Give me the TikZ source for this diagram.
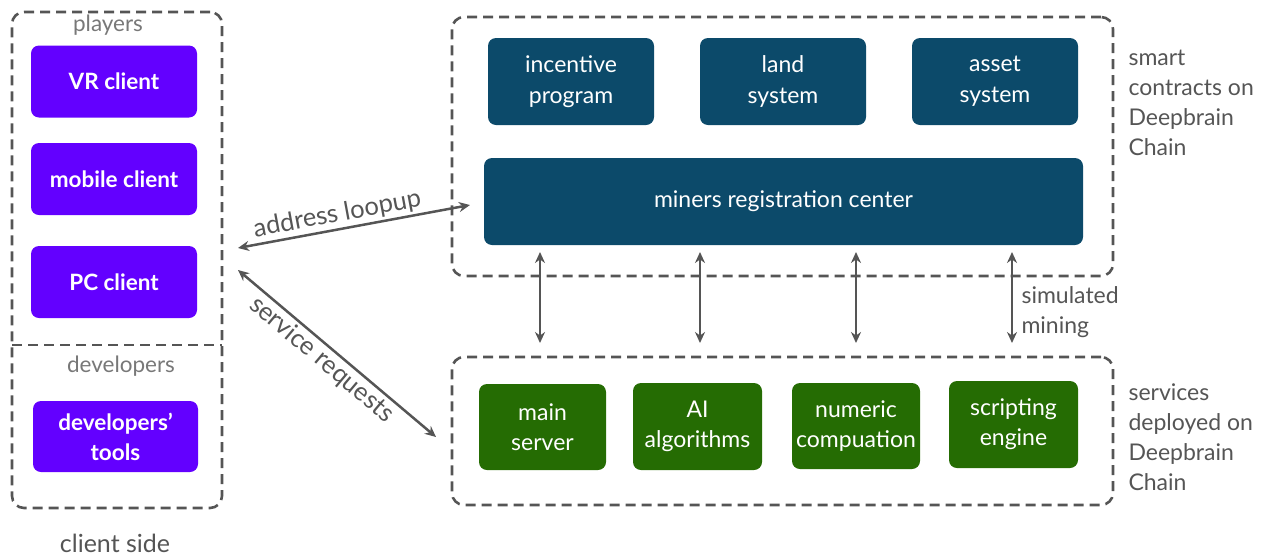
\documentclass[tikz,border=0pt]{standalone}
\usepackage{fontspec}
\setmainfont{Lato}
\usetikzlibrary{arrows.meta}
\definecolor{purp}{RGB}{99,0,255}
\definecolor{navy}{RGB}{12,74,106}
\definecolor{grn}{RGB}{37,108,3}
\definecolor{dgray}{RGB}{85,85,85}
\definecolor{lgray}{RGB}{120,120,120}
\begin{document}
\begin{tikzpicture}[x=1pt,y=-1pt,
  dashbox/.style={draw=dgray,line width=2.6pt,dash pattern=on 10pt off 6pt,rounded corners=12pt},
  pbox/.style={fill=purp,rounded corners=8pt,text=white,font=\fontsize{22.5}{30}\selectfont\bfseries,align=center,minimum width=166pt,minimum height=72pt,inner sep=0pt},
  nbox/.style={fill=navy,rounded corners=8pt,text=white,font=\fontsize{23}{31}\selectfont,align=center,minimum width=166pt,minimum height=87pt,inner sep=0pt},
  gbox/.style={fill=grn,rounded corners=8pt,text=white,font=\fontsize{23}{30}\selectfont,align=center,minimum width=128pt,minimum height=86pt,inner sep=0pt},
  glabel/.style={text=lgray,font=\fontsize{22.5}{24}\selectfont},
  side/.style={text=dgray,font=\fontsize{23}{30}\selectfont,align=left,anchor=west},
  conn/.style={draw=dgray,line width=2.5pt,{Stealth[length=11pt,width=10pt]}-{Stealth[length=11pt,width=10pt]}},
  clabel/.style={text=dgray,font=\fontsize{25.5}{27}\selectfont,inner sep=2pt}
]
\useasboundingbox (0,0) rectangle (1270,555);
% client side
\node[dashbox,minimum width=210pt,minimum height=496pt,inner sep=0pt] (client) at (117,260) {};
\draw[draw=dgray,line width=2.6pt,dash pattern=on 10pt off 6pt] (12,345) coordinate (divl) -- (222,345) coordinate (divr);
\node[glabel] (players) at (108,25) {players};
\node[glabel] (devs) at (121,366) {developers};
\node[text=dgray,font=\fontsize{25}{26}\selectfont] (cside) at (115,543) {client side};
\node[pbox] (vr) at (114,81.5) {VR client};
\node[pbox] (mobile) at (114,179) {mobile client};
\node[pbox] (pc) at (114,282) {PC client};
\node[pbox,minimum width=165pt,minimum height=71pt] (devtools) at (115.5,436.5) {developers'\\tools};
% smart contracts
\node[dashbox,minimum width=661pt,minimum height=259pt,inner sep=0pt] (top) at (782.5,146.5) {};
\node[nbox] (incentive) at (571,81.5) {incentive\\program};
\node[nbox] (land) at (783,81.5) {land\\system};
\node[nbox] (asset) at (995,81.5) {asset\\system};
\node[nbox,minimum width=599pt] (miners) at (783.5,201.5) {miners registration center};
\node[side] (sc) at (1125,103) {smart\\contracts on\\Deepbrain\\Chain};
% services
\node[dashbox,minimum width=661pt,minimum height=148pt,inner sep=0pt] (bot) at (782.5,431) {};
\node[gbox,minimum width=127pt] (main) at (542.5,427) {main\\server};
\node[gbox,minimum width=129pt,minimum height=87pt] (ai) at (697.5,426.5) {AI\\algorithms};
\node[gbox] (num) at (856,426) {numeric\\compuation};
\node[gbox,minimum width=129pt,minimum height=87pt] (script) at (1013.5,424.5) {scripting\\engine};
\node[side] (sv) at (1125,437) {services\\deployed on\\Deepbrain\\Chain};
% vertical connectors
\foreach \x/\n in {540/a,700/b,856/c,1012/d}{
  \coordinate (t\n) at (\x,252);
  \coordinate (b\n) at (\x,343);
  \draw[conn] (t\n) -- (b\n);
}
\node[side] (sim) at (1018,312) {simulated\\mining};
% diagonal connectors
\coordinate (al) at (238,248);
\coordinate (ar) at (470,205);
\coordinate (sl) at (238,270);
\coordinate (sr) at (436,437);
\draw[conn] (al) -- node[sloped,above,clabel,pos=0.44] {address loopup} (ar);
\draw[conn] (sl) -- node[sloped,below,clabel,pos=0.47] {service requests} (sr);
\end{tikzpicture}
\end{document}
